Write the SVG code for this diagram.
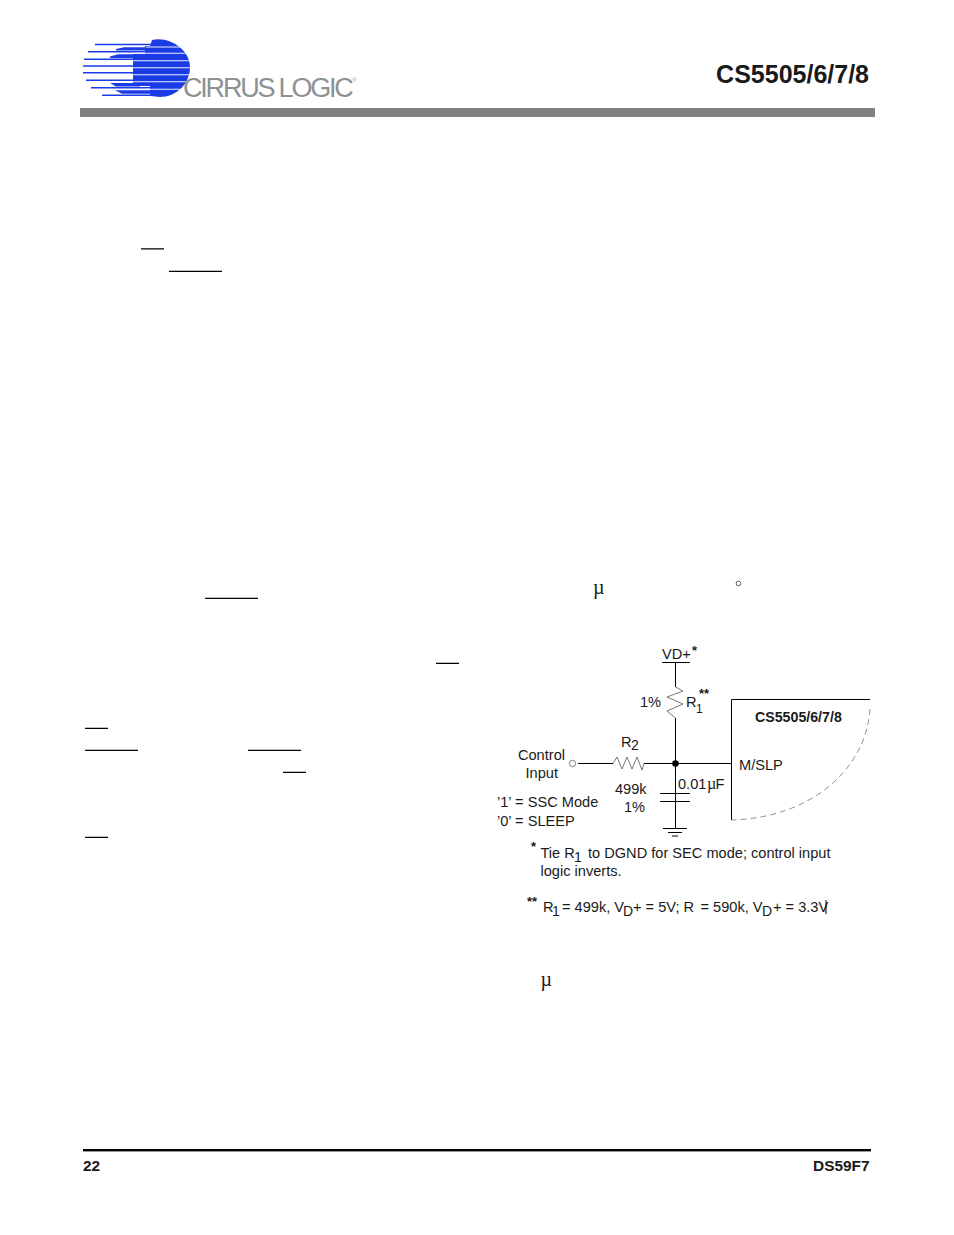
<svg xmlns="http://www.w3.org/2000/svg" width="954" height="1235" viewBox="0 0 954 1235">
<style>
text{font-family:"Liberation Sans",Arial,sans-serif;fill:#1a1a1a}
.t{font-size:14.6px}.u{font-size:14px}.s{font-size:13px;font-weight:bold}.b{font-weight:bold}
.w{stroke:#000;stroke-width:1;fill:none}
.r{stroke:#555;stroke-width:.8;fill:none}
.o{stroke:#000;stroke-width:1.3;fill:none}
.m{font-family:"Liberation Serif",serif;font-size:20px}
.bl{fill:#1a3be6}
.wl{stroke:#e8ecff;stroke-width:1.1;fill:none}
.st{stroke:#1a3be6;stroke-width:1.4;fill:none}
</style>
<rect width="954" height="1235" fill="#fff"/>
<g id="logo">
<path class="bl" d="M152 40C170 36 190 50 190 67C190 84 176 97 160 97L150 96V86H133V54H145V46H150Z"/>
<path class="bl" d="M116 49L124 47.300H150V50.500H116ZM110 56.500L118 54.300H140V58H110ZM110 83H140V86.500H116ZM115 90.200H155V93.800H122Z"/>
<g class="st"><path d="M95 44.500H160M88 51.700H145M84 59.300H140M83 66H140M83 72.800H140M86 80.300H140M91 87.700H150M102 95.300H160"/></g>
<g stroke="#fff" stroke-width="1.800" fill="none"><path d="M128 62H133M128 68.800H133M128 75.500H133"/></g>
<g class="wl"><path d="M146 47H185M136 53.300H188M133 60.700H190M133 67.700H190M133 74.700H190M133 81.700H190M146 89.300H182"/></g>
<text x="183" y="96.500" style="font-size:27px;fill:#8c9194;letter-spacing:-2.200px">CIRRUS LOGIC</text>
<text x="352.500" y="82" style="font-size:5px;fill:#8c9194">®</text>
</g>
<g id="title"><text x="869" y="83" text-anchor="end" class="b" style="font-size:25px">CS5505/6/7/8</text></g>
<rect id="header-rule" x="80" y="108" width="795" height="9" fill="#808080"/>
<g id="overbars" class="o">
<path d="M141 248.800H164M169 271.300H222M205 598.300H258M436 663.300H459M85 728.300H108M85 750.300H138M248 750.300H301M283 772.300H306M85 837.300H108"/>
</g>
<text x="593" y="594" class="m">µ</text>
<circle cx="738.500" cy="583.500" r="2.300" fill="none" stroke="#333" stroke-width=".8"/>
<text x="540.500" y="986" class="m">µ</text>
<g id="connectors">
<path class="w" d="M662 662.500H690M675.500 662.500V687M675.500 718V763M578 763.500H613M644 763.500H732M675.500 763V828M660 793.500H690M660 801.500H690M663 828.500H687M668 832.500H682M672 836H678"/>
<path class="r" d="M675.500 687L683 691L667 697L683 704L667 711L675.500 718M613 763.500L617 757L622 769L627 757L632 769L637 757L642 770L644 763.500"/>
<circle cx="572.500" cy="763.500" r="3.200" fill="none" stroke="#666" stroke-width=".8"/>
</g>
<circle id="junction" cx="675.500" cy="763.500" r="3.300"/>
<g id="chip">
<path class="w" d="M870 699.500H731.500V820"/>
<path d="M870 709C866 770 810 818 731.500 820" fill="none" stroke="#777" stroke-width=".8" stroke-dasharray="6 4"/>
<text x="755" y="722" class="b" style="font-size:14.200px">CS5505/6/7/8</text>
<text x="739" y="770" class="t">M/SLP</text>
</g>
<g id="labels">
<text x="662" y="659" class="t">VD+</text><text x="692" y="655" class="s">*</text>
<text x="640" y="707" class="t">1%</text>
<text x="686" y="707" class="t">R</text><text x="696" y="713" style="font-size:12px">1</text><text x="699" y="698" class="s">**</text>
<text x="621" y="747" class="t">R</text><text x="631" y="750" class="u">2</text>
<text x="565" y="760" class="t" text-anchor="end">Control</text>
<text x="558" y="778" class="t" text-anchor="end">Input</text>
<text x="497" y="807" class="t">’1’ = SSC Mode</text>
<text x="497" y="826" class="t">’0’ = SLEEP</text>
<text x="615" y="794" class="t">499k</text>
<text x="624" y="812" class="t">1%</text>
<text x="678" y="789" class="t">0.01</text><text x="707" y="789" style="font-family:'Liberation Serif',serif;font-size:16px">µ</text><text x="715.500" y="789" class="t">F</text>
<text x="531" y="851" class="s">*</text>
<text x="540.500" y="858" class="t">Tie R</text><text x="574" y="862" class="u">1</text><text x="588" y="858" class="t">to DGND for SEC mode; control input</text>
<text x="540.500" y="876" class="t">logic inverts.</text>
<text x="527" y="906" class="s">**</text>
<text x="543" y="912" class="t">R</text><text x="552" y="916" class="u">1</text><text x="562" y="912" class="t">= 499k, V</text><text x="623" y="916" class="u">D</text><text x="633" y="912" class="t">+ = 5V; R</text><text x="700.500" y="912" class="t">= 590k, V</text><text x="762" y="916" class="u">D</text><text x="773" y="912" class="t">+ = 3.3V</text>
<path d="M826 900V914" stroke="#000" fill="none"/>
</g>
<rect id="footer-rule" x="83" y="1149" width="788" height="2.400" fill="#000"/>
<g id="footer" class="b" style="font-size:15.400px">
<text x="83" y="1171">22</text>
<text x="869.500" y="1171" text-anchor="end">DS59F7</text>
</g>
</svg>
